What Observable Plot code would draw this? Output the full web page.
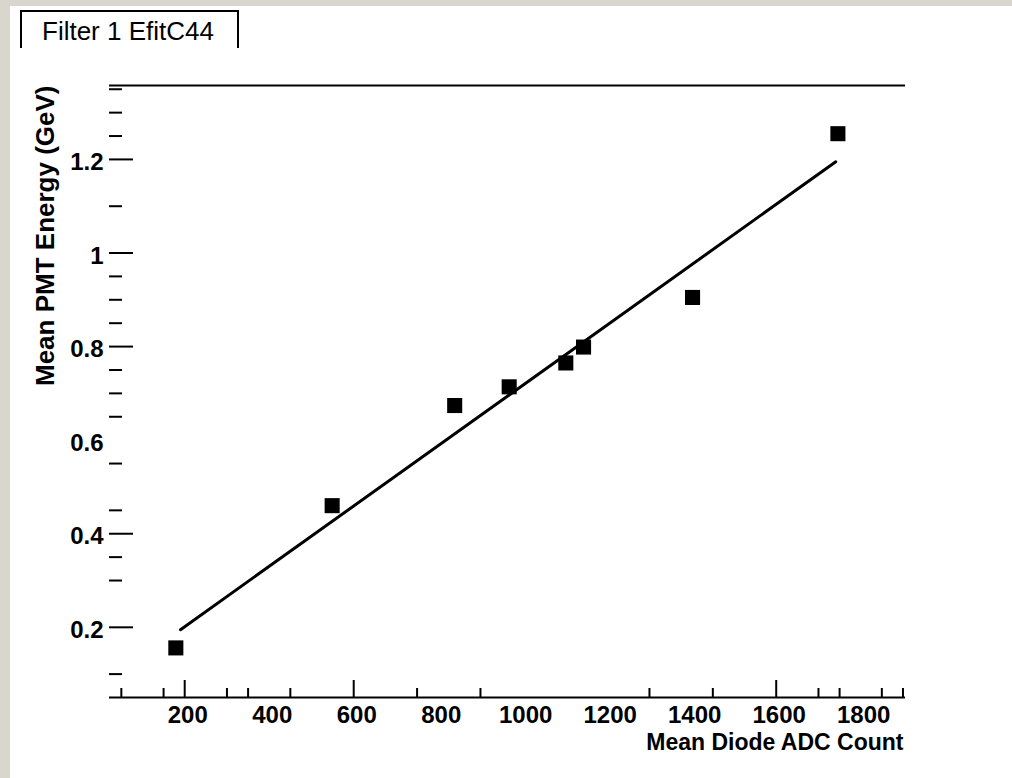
<!DOCTYPE html>
<html><head><meta charset="utf-8">
<script src="https://cdn.jsdelivr.net/npm/d3@7"></script>
<script src="https://cdn.jsdelivr.net/npm/@observablehq/plot@0.6"></script>
<style>
html,body{margin:0;padding:0;}
body{width:1012px;height:778px;background:#d9d7cd;position:relative;overflow:hidden;font-family:"Liberation Sans",Arial,sans-serif;}
#panel{position:absolute;left:10px;top:6px;right:0;bottom:0;background:#fff;}
#chart{position:absolute;left:0;top:0;}
#title{position:absolute;left:20px;top:10px;width:195px;height:30px;border:2px solid #000;border-bottom:none;font-size:26px;line-height:26px;padding:6px 0 0 20px;box-sizing:content-box;color:#000;white-space:nowrap;}
</style></head>
<body>
<div id="panel"></div>
<div id="chart"></div>
<div id="title">Filter 1 EfitC44</div>
<script>
const adcCount = [179, 549, 839, 968, 1102, 1144, 1402, 1746];
const pmtEnergy = [0.156, 0.460, 0.674, 0.714, 0.765, 0.799, 0.905, 1.255];
const fitAdc = [190, 1741];
const fitEnergy = [0.195, 1.195];
const xDomain = [22, 1906];
const yDomain = [0.05, 1.358];
const xLabelTicks = [200, 400, 600, 800, 1000, 1200, 1400, 1600, 1800];
const xMajorTicks = [200, 600, 1600];
const xMinorTicks = [50, 150, 300, 350, 450, 750, 900, 1300, 1450, 1700, 1750, 1850, 1900];
const yLabelTicks = [0.2, 0.4, 0.6, 0.8, 1, 1.2];
const yMajorTicks = [0.2, 0.4, 0.8, 1, 1.2];
const yMinorTicks = [0.1, 0.3, 0.35, 0.45, 0.55, 0.65, 0.7, 0.75, 0.85, 0.9, 0.95, 1.1, 1.25, 1.3, 1.35];
const xTitle = "Mean Diode ADC Count";
const yTitle = "Mean PMT Energy (GeV)";

const points = adcCount.map((x, i) => ({x, y: pmtEnergy[i]}));
const fit = fitAdc.map((x, i) => ({x, y: fitEnergy[i]}));
const font = "'Liberation Sans', Arial, sans-serif";
const fmt = d => String(d);
const blank = () => "";

const chart = Plot.plot({
  width: 1012,
  height: 778,
  marginLeft: 109,
  marginRight: 107,
  marginTop: 85,
  marginBottom: 81,
  style: {background: "transparent", fontFamily: font, color: "#000"},
  x: {domain: xDomain, axis: null},
  y: {domain: yDomain, axis: null},
  marks: [
    Plot.ruleY([yDomain[0]], {stroke: "#000", strokeWidth: 2}),
    Plot.ruleY([yDomain[1]], {stroke: "#000", strokeWidth: 2}),
    Plot.axisX(xMajorTicks, {tickSize: -17, strokeWidth: 2, tickFormat: blank, label: null}),
    Plot.axisX(xMinorTicks, {tickSize: -9, strokeWidth: 2, tickFormat: blank, label: null}),
    Plot.axisX(xLabelTicks, {tickSize: 0, tickPadding: 8, dx: 3, fontSize: 24, fontWeight: "bold", fontFamily: font, tickFormat: fmt, label: null, fill: "#000"}),
    Plot.axisY(yMajorTicks, {tickSize: -24, strokeWidth: 2, tickFormat: blank, label: null}),
    Plot.axisY(yMinorTicks, {tickSize: -13, strokeWidth: 2, tickFormat: blank, label: null}),
    Plot.axisY(yLabelTicks, {tickSize: 0, tickPadding: 6, dy: 3, fontSize: 24, fontWeight: "bold", fontFamily: font, tickFormat: fmt, label: null, fill: "#000"}),
    Plot.text([yTitle], {frameAnchor: "top-left", dx: -74, rotate: -90, textAnchor: "end", fontSize: 26, fontWeight: "bold", fontFamily: font, fill: "#000"}),
    Plot.text([xTitle], {frameAnchor: "bottom-right", dx: -2, dy: 52, textAnchor: "end", fontSize: 23, fontWeight: "bold", fontFamily: font, fill: "#000"}),
    Plot.line(fit, {x: "x", y: "y", stroke: "#000", strokeWidth: 3}),
    Plot.dot(points, {x: "x", y: "y", symbol: "square", r: 8.5, fill: "#000", stroke: "none"})
  ]
});
document.getElementById("chart").appendChild(chart);
</script>
</body></html>
